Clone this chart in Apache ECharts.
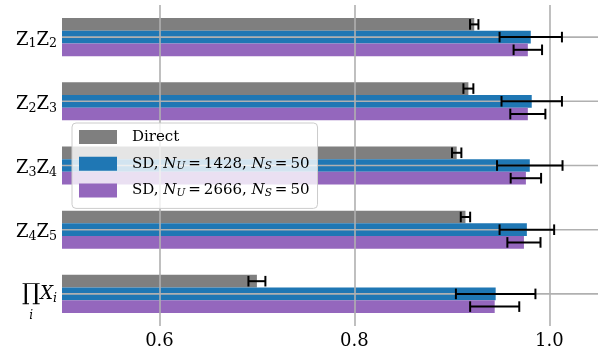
<!DOCTYPE html>
<html>
<head>
<meta charset="utf-8">
<script src="https://cdn.jsdelivr.net/npm/echarts@6/dist/echarts.min.js"></script>
<style>
  html, body { margin: 0; padding: 0; background: #ffffff; }
  #chart { width: 606px; height: 354px; }
</style>
</head>
<body>
<div id="chart"></div>
<script>
// Fidelity per observable, three estimators
const categories = ['Z1Z2', 'Z2Z3', 'Z3Z4', 'Z4Z5', 'ΠXi'];
const seriesNames = ['Direct', 'SD, N_U = 1428, N_S = 50', 'SD, N_U = 2666, N_S = 50'];
const directValues = [0.923, 0.917, 0.905, 0.914, 0.700];
const directErrors = [0.0043, 0.0051, 0.0048, 0.0048, 0.0087];
const sd1428Values = [0.981, 0.982, 0.980, 0.977, 0.945];
const sd1428Errors = [0.032, 0.031, 0.0336, 0.028, 0.0408];
const sd2666Values = [0.978, 0.978, 0.976, 0.974, 0.944];
const sd2666Errors = [0.0146, 0.018, 0.0156, 0.017, 0.0252];
const xTicks = [0.6, 0.8, 1.0];
const xMin = 0.5;
const xMax = 1.05;

const colors = ['#7f7f7f', '#1f77b4', '#9467bd'];
const FONT = '"DejaVu Serif", "Liberation Serif", serif';
const GAP = 0.406;           // share of each category band left empty
const GRID_COLOR = '#b0b0b0';

const valueSets = [directValues, sd1428Values, sd2666Values];
const errorSets = [directErrors, sd1428Errors, sd2666Errors];

// rich-text markup for the category labels
function categoryMarkup(c) {
  if (c === 'ΠXi') {
    return '{sp| }\n{pi|∏}{x|X}{xs|i}\n{bi|i}{pad| }';
  }
  return c.replace(/([A-Z])(\d)/g, '{z|$1}{s|$2}');
}

// rich-text markup for legend entries
function legendMarkup(name) {
  return name
    .replace(/N_([A-Z])/g, '{it|N}{sub|$1}')
    .replace(/ = /g, '{eq|=}')
    .replace(/(^|\})([^{}]+)(?=\{|$)/g, '$1{t|$2}');
}

// error bar drawn at the centre of the bar of a given slot (0 = top)
function errorBarRenderer(slot) {
  return function (params, api) {
    const cat = api.value(0);
    const v = api.value(1);
    const e = api.value(2);
    const band = api.size([0, 1])[1];
    const barH = band * (1 - GAP) / 3;
    const dy = (slot - 1) * barH;
    const lo = api.coord([v - e, cat]);
    const hi = api.coord([v + e, cat]);
    const y = lo[1] + dy;
    const cap = 5.3;
    const style = { stroke: '#000', lineWidth: 2 };
    return {
      type: 'group',
      children: [
        { type: 'line', shape: { x1: lo[0], y1: y, x2: hi[0], y2: y }, style: style },
        { type: 'line', shape: { x1: lo[0], y1: y - cap, x2: lo[0], y2: y + cap }, style: style },
        { type: 'line', shape: { x1: hi[0], y1: y - cap, x2: hi[0], y2: y + cap }, style: style }
      ]
    };
  };
}

// horizontal grid line through each category centre
function rowLineRenderer(params, api) {
  const left = api.coord([xMin, api.value(0)]);
  const right = api.coord([xMax, api.value(0)]);
  return {
    type: 'line',
    shape: { x1: left[0], y1: left[1], x2: right[0], y2: right[1] },
    style: { stroke: GRID_COLOR, lineWidth: 1.6 }
  };
}

const barSeries = seriesNames.map(function (name, k) {
  return {
    name: name,
    type: 'bar',
    data: valueSets[k],
    barGap: '0%',
    barCategoryGap: (GAP * 100) + '%',
    itemStyle: { color: colors[k] },
    z: 2
  };
});

const errorSeries = seriesNames.map(function (name, k) {
  return {
    name: name + ' error',
    type: 'custom',
    renderItem: errorBarRenderer(k),
    encode: { x: 1, y: 0 },
    data: valueSets[k].map(function (v, i) { return [i, v, errorSets[k][i]]; }),
    z: 8,
    silent: true
  };
});

const rowLines = {
  name: 'rows',
  type: 'custom',
  renderItem: rowLineRenderer,
  encode: { y: 0 },
  data: categories.map(function (c, i) { return [i]; }),
  z: 6,
  silent: true
};

const chart = echarts.init(document.getElementById('chart'), null, { renderer: 'canvas' });
chart.setOption({
  animation: false,
  backgroundColor: '#ffffff',
  grid: { left: 62, right: 8, top: 5, bottom: 28 },
  legend: {
    data: seriesNames,
    orient: 'vertical',
    left: 72,
    top: 123,
    icon: 'rect',
    itemWidth: 38,
    itemHeight: 14,
    itemGap: 6.7,
    padding: [4, 8, 8, 7],
    backgroundColor: 'rgba(255,255,255,0.8)',
    borderColor: '#cccccc',
    borderWidth: 1,
    borderRadius: 4,
    z: 20,
    formatter: legendMarkup,
    textStyle: {
      fontFamily: FONT,
      fontSize: 15,
      lineHeight: 20,
      color: '#000',
      padding: [0, 0, 0, 10],
      rich: {
        t: { fontFamily: FONT, fontSize: 15, lineHeight: 20, color: '#000' },
        it: { fontFamily: FONT, fontSize: 15, lineHeight: 20, fontStyle: 'italic', color: '#000' },
        sub: { fontFamily: FONT, fontSize: 10.5, lineHeight: 14, fontStyle: 'italic', color: '#000', padding: [6, 0, 0, 0] },
        eq: { fontFamily: FONT, fontSize: 15, lineHeight: 20, color: '#000', padding: [0, 3, 0, 3] }
      }
    }
  },
  xAxis: {
    type: 'value',
    min: xMin,
    max: xMax,
    z: 5,
    axisLine: { show: false },
    axisTick: { show: false, customValues: xTicks },
    axisLabel: {
      customValues: xTicks,
      fontFamily: FONT,
      fontSize: 18,
      color: '#000',
      margin: 6,
      formatter: function (v) { return v.toFixed(1); }
    },
    splitLine: { show: true, lineStyle: { color: GRID_COLOR, width: 1.6 } }
  },
  yAxis: {
    type: 'category',
    data: categories,
    inverse: true,
    axisLine: { show: false },
    axisTick: { show: false },
    splitLine: { show: false },
    axisLabel: {
      margin: 5,
      color: '#000',
      padding: [6, 0, 0, 0],
      formatter: categoryMarkup,
      rich: {
        z: { fontFamily: FONT, fontSize: 18, lineHeight: 22, color: '#000' },
        s: { fontFamily: FONT, fontSize: 12.6, lineHeight: 14, color: '#000', padding: [8, 0, 0, 0] },
        sp: { fontFamily: FONT, fontSize: 8, lineHeight: 12 },
        pi: { fontFamily: FONT, fontSize: 23, lineHeight: 26, color: '#000' },
        x: { fontFamily: FONT, fontSize: 18, lineHeight: 26, fontStyle: 'italic', color: '#000' },
        xs: { fontFamily: FONT, fontSize: 12.6, lineHeight: 14, fontStyle: 'italic', color: '#000', padding: [10, 0, 0, 0] },
        bi: { fontFamily: FONT, fontSize: 12, lineHeight: 18, fontStyle: 'italic', color: '#000' },
        pad: { fontFamily: FONT, fontSize: 12, lineHeight: 18, width: 24 }
      }
    }
  },
  series: barSeries.concat([rowLines]).concat(errorSeries)
});
</script>
</body>
</html>
